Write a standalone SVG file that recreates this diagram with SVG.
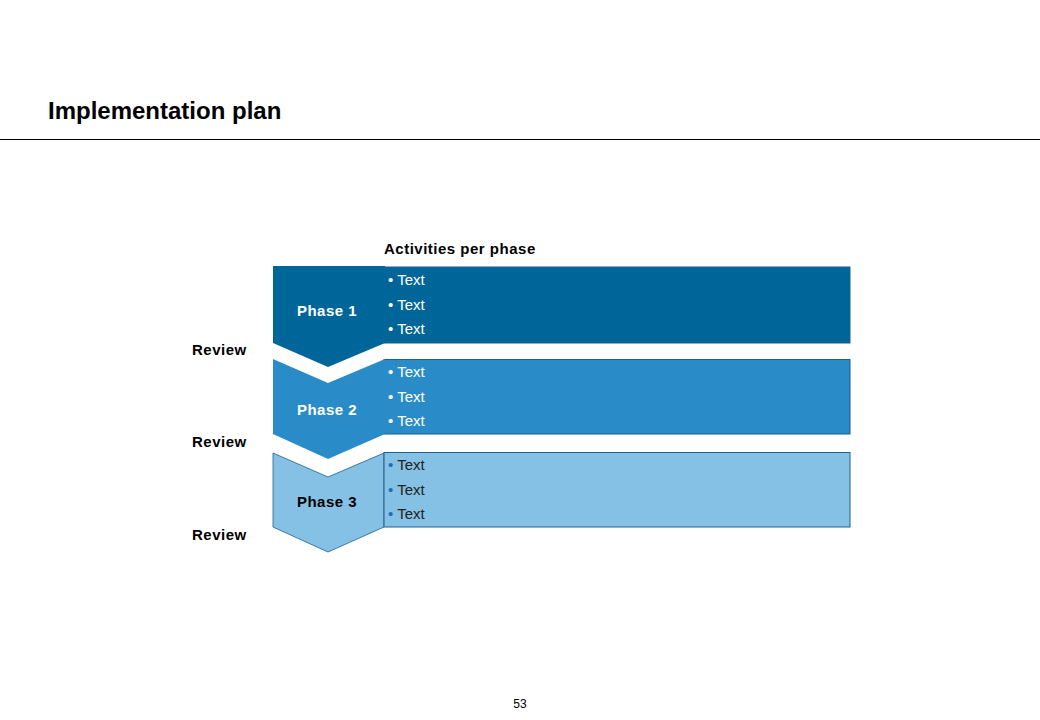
<svg xmlns="http://www.w3.org/2000/svg" width="1040" height="720" viewBox="0 0 1040 720">
<style>
text{font-family:"Liberation Sans",Arial,sans-serif}
.b{font-weight:bold;font-size:15px;letter-spacing:0.5px}
.t{font-size:15px}
.w{fill:#ffffff}
.k{fill:#000000}
.box{stroke:#1d5f8e;stroke-width:1}
</style>
<rect width="1040" height="720" fill="#ffffff"/>
<text x="48" y="119" font-size="24" font-weight="bold" fill="#000">Implementation plan</text>
<line x1="0" y1="139.5" x2="1040" y2="139.5" stroke="#000" stroke-width="1"/>
<text x="384" y="254" class="b k">Activities per phase</text>
<g id="review-labels">
<text x="192" y="355" class="b k">Review</text>
<text x="192" y="447" class="b k">Review</text>
<text x="192" y="540" class="b k">Review</text>
</g>
<g id="phase1">
<rect x="384" y="267" width="466" height="76" fill="#006699" class="box"/>
<polygon points="273,266 385,266 385,343 328,367 273,343" fill="#006699"/>
<text x="327" y="316" text-anchor="middle" class="b w">Phase 1</text>
<text x="388" y="285" class="t w">• Text</text>
<text x="388" y="310" class="t w">• Text</text>
<text x="388" y="334" class="t w">• Text</text>
</g>
<g id="phase2">
<rect x="384" y="359.5" width="466" height="74.5" fill="#298cc8" class="box"/>
<polygon points="273,359 328,383 385,359 385,434 328,459 273,434" fill="#298cc8"/>
<text x="327" y="415" text-anchor="middle" class="b w">Phase 2</text>
<text x="388" y="377" class="t w">• Text</text>
<text x="388" y="402" class="t w">• Text</text>
<text x="388" y="426" class="t w">• Text</text>
</g>
<g id="phase3">
<polygon points="273,453 328,477 384,453 384,527 328,552 273,527" fill="#85c1e4" stroke="#1d5f8e" stroke-width="0.8"/>
<rect x="384" y="452.5" width="466" height="74.5" fill="#85c1e4" class="box"/>
<text x="327" y="507" text-anchor="middle" class="b k">Phase 3</text>
<text x="388" y="470" class="t"><tspan fill="#1d6fae">•</tspan><tspan fill="#222"> Text</tspan></text>
<text x="388" y="495" class="t"><tspan fill="#1d6fae">•</tspan><tspan fill="#222"> Text</tspan></text>
<text x="388" y="519" class="t"><tspan fill="#1d6fae">•</tspan><tspan fill="#222"> Text</tspan></text>
</g>
<g id="connectors"></g>
<text x="520" y="708" text-anchor="middle" font-size="12" fill="#000">53</text>
</svg>
